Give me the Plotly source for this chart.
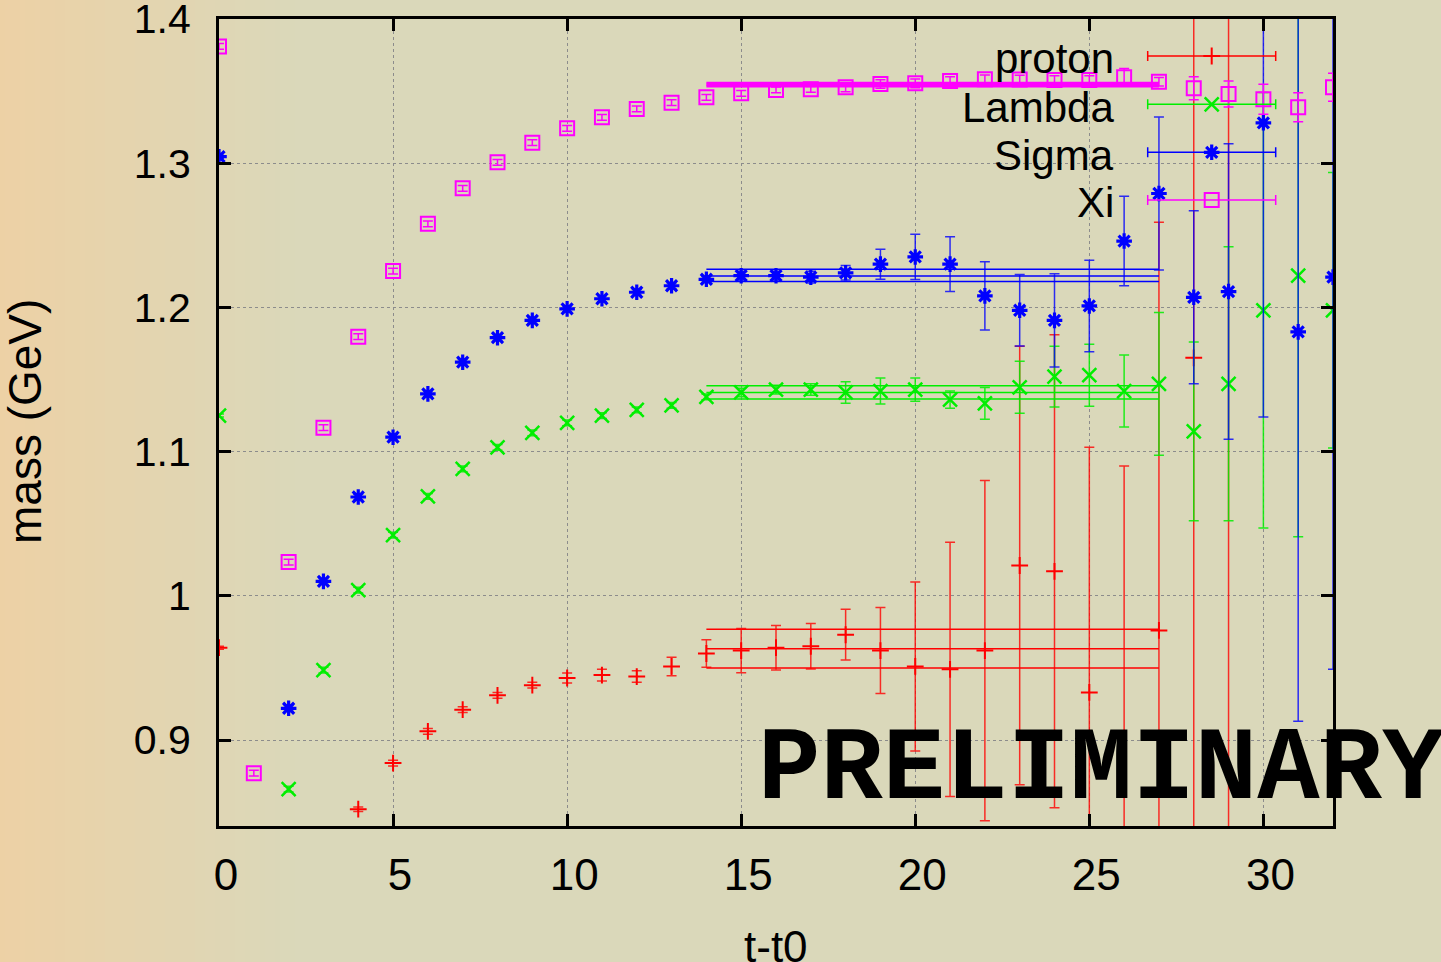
import plotly.graph_objects as go

# ---------------- data ----------------
t = list(range(33))

proton_mass = [0.964, None, None, None, 0.852, 0.884, 0.906, 0.921, 0.931, 0.938,
               0.943, 0.945, 0.944, 0.951, 0.960, 0.962, 0.964, 0.965, 0.973, 0.962,
               0.951, 0.949, 0.962, 1.021, 1.017, 0.933, 0.820, 0.976, 1.165, 0.800,
               None, None, None]
proton_err = [0.001, None, None, None, 0.0015, 0.002, 0.002, 0.002, 0.002, 0.002,
              0.0035, 0.004, 0.004, 0.0064, 0.0096, 0.0154, 0.0154, 0.0158, 0.0176, 0.0298,
              0.0586, 0.0882, 0.118, 0.152, 0.164, 0.170, 0.270, 0.283, 0.500, 0.650,
              None, None, None]

lambda_mass = [1.125, None, 0.866, 0.9485, 1.004, 1.042, 1.069, 1.088, 1.103, 1.113,
               1.120, 1.125, 1.129, 1.132, 1.138, 1.141, 1.143, 1.143, 1.141, 1.142,
               1.143, 1.136, 1.1335, 1.1446, 1.152, 1.153, 1.142, 1.147, 1.114, 1.147,
               1.198, 1.222, 1.198]
lambda_err = [0.001, None, 0.002, 0.002, 0.002, 0.002, 0.002, 0.002, 0.002, 0.002,
              0.002, 0.002, 0.002, 0.002, 0.002, 0.003, 0.003, 0.004, 0.0075, 0.009,
              0.008, 0.006, 0.011, 0.018, 0.021, 0.0215, 0.025, 0.0495, 0.062, 0.095,
              0.151, 0.181, 0.0955]

sigma_mass = [1.3045, None, 0.922, 1.010, 1.0685, 1.110, 1.140, 1.162, 1.179, 1.191,
              1.199, 1.206, 1.2105, 1.215, 1.2195, 1.222, 1.222, 1.221, 1.224, 1.230,
              1.235, 1.230, 1.208, 1.198, 1.191, 1.201, 1.246, 1.279, 1.207, 1.211,
              1.328, 1.183, 1.221]
sigma_err = [0.001, None, 0.002, 0.002, 0.002, 0.002, 0.002, 0.002, 0.002, 0.002,
             0.002, 0.002, 0.002, 0.002, 0.002, 0.003, 0.003, 0.004, 0.005, 0.0104,
             0.0157, 0.019, 0.0237, 0.0248, 0.0323, 0.0317, 0.031, 0.053, 0.060, 0.1025,
             0.204, 0.270, 0.272]

xi_mass = [1.381, 0.877, 1.0234, 1.1166, 1.1797, 1.2252, 1.258, 1.2826, 1.3006, 1.3142,
           1.3242, 1.3318, 1.3376, 1.342, 1.3457, 1.3485, 1.3508, 1.3512, 1.3526, 1.3549,
           1.3554, 1.357, 1.3582, 1.358, 1.3577, 1.3577, 1.3596, 1.3565, 1.352, 1.348,
           1.3443, 1.3388, 1.3526]
xi_err = [0.002, 0.002, 0.002, 0.002, 0.002, 0.002, 0.002, 0.002, 0.002, 0.002,
          0.002, 0.002, 0.002, 0.002, 0.002, 0.002, 0.002, 0.002, 0.003, 0.003,
          0.003, 0.003, 0.003, 0.003, 0.003, 0.003, 0.006, 0.003, 0.008, 0.009,
          0.0104, 0.010, 0.0097]

# plateau fits: central, upper, lower over the fit window
fit_window = [14, 27]
proton_fit = [0.9633, 0.9768, 0.9499]
lambda_fit = [1.1409, 1.1457, 1.1365]
sigma_fit = [1.2218, 1.2264, 1.2179]
xi_fit = [1.3545, 1.3556, 1.3534]

names = ["proton", "Lambda", "Sigma", "Xi"]
x_ticks = [0, 5, 10, 15, 20, 25, 30]
y_ticks = [0.9, 1.0, 1.1, 1.2, 1.3, 1.4]
y_ticktext = ["0.9", "1", "1.1", "1.2", "1.3", "1.4"]

# ---------------- layout geometry ----------------
W, H = 1441, 962
ML, MR, MT, MB = 219, 108, 19, 136
PW, PH = W - ML - MR, H - MT - MB

def pxx(px):
    return (px - ML) / PW

def pxy(py):
    return (H - MB - py) / PH

colors = ["#ff0000", "#00ee00", "#0000ff", "#ff00ff"]
bar_colors = ["rgba(255,0,0,0.8)", "rgba(0,238,0,0.85)", "rgba(0,0,255,0.8)", "#ff00ff"]
symbols = ["cross-thin-open", "x-thin-open", "asterisk-open", "square-open"]
msizes = [12, 14, 13, 14]
mwidths = [2, 2.5, 3.2, 2]

series = [(proton_mass, proton_err, proton_fit),
          (lambda_mass, lambda_err, lambda_fit),
          (sigma_mass, sigma_err, sigma_fit),
          (xi_mass, xi_err, xi_fit)]

fig = go.Figure()

for i, (m, e, f) in enumerate(series):
    c = colors[i]
    fig.add_trace(go.Scatter(
        x=t, y=m, mode="markers", name=names[i], showlegend=False,
        marker=dict(symbol=symbols[i], size=msizes[i], color=c,
                    line=dict(color=c, width=mwidths[i])),
        error_y=dict(type="data", array=e, visible=True, color=bar_colors[i],
                     thickness=1.5, width=5),
    ))
    lw = 2.4 if i == 3 else 1.5
    for v in f:
        fig.add_trace(go.Scatter(
            x=fit_window, y=[v, v], mode="lines", showlegend=False,
            line=dict(color=c, width=lw), hoverinfo="skip",
        ))

# ---------------- gnuplot-style key ----------------
key_rows_px = [56, 104.3, 152.3, 200]
key_center_px = 1211.7
key_half_px = 64
key_text_right_px = 1116
for i in range(4):
    c = colors[i]
    fig.add_trace(go.Scatter(
        x=[pxx(key_center_px)], y=[pxy(key_rows_px[i])], xaxis="x2", yaxis="y2",
        mode="markers", showlegend=False, hoverinfo="skip",
        marker=dict(symbol=symbols[i], size=msizes[i], color=c,
                    line=dict(color=c, width=mwidths[i])),
        error_x=dict(type="constant", value=key_half_px / PW, color=c,
                     thickness=1.5, width=5),
    ))

annotations = []
for i in range(4):
    annotations.append(dict(
        x=pxx(key_text_right_px), y=pxy(key_rows_px[i]), xref="paper", yref="paper",
        text=names[i], showarrow=False, xanchor="right", yanchor="middle",
        font=dict(family="Liberation Sans, Arial, sans-serif", size=42, color="#000"),
        yshift=-3,
    ))

annotations.append(dict(
    x=pxx(25), y=pxy(422), xref="paper", yref="paper", text="mass (GeV)",
    textangle=-90, showarrow=False, xanchor="center", yanchor="middle",
    font=dict(family="Liberation Sans, Arial, sans-serif", size=46, color="#000"),
))
annotations.append(dict(
    x=pxx(776), y=pxy(946), xref="paper", yref="paper", text="t-t0",
    showarrow=False, xanchor="center", yanchor="middle",
    font=dict(family="Liberation Sans, Arial, sans-serif", size=44, color="#000"),
))
annotations.append(dict(
    x=pxx(756), y=pxy(770), xref="paper", yref="paper", text="PRELIMINARY",
    showarrow=False, xanchor="left", yanchor="middle",
    font=dict(family="Liberation Mono, Courier New, monospace", size=104, color="#000",
              weight=600),
))

# ---------------- background gradient strips ----------------
shapes = []
c0 = (237, 209, 165)
c1 = (218, 216, 186)
grad_end = 300
step = 5
for k in range(0, grad_end, step):
    fr = (k + step / 2) / grad_end
    col = tuple(round(c0[j] + (c1[j] - c0[j]) * fr) for j in range(3))
    shapes.append(dict(
        type="rect", xref="paper", yref="paper",
        x0=pxx(k), x1=pxx(k + step + 1), y0=pxy(H + 5), y1=pxy(-5),
        fillcolor="rgb(%d,%d,%d)" % col, line=dict(width=0), layer="below",
    ))

axis_font = dict(family="Liberation Sans, Arial, sans-serif", color="#000")

fig.update_layout(
    width=W, height=H,
    margin=dict(l=ML, r=MR, t=MT, b=MB, pad=0, autoexpand=False),
    paper_bgcolor="rgb(218,216,186)",
    plot_bgcolor="rgba(0,0,0,0)",
    showlegend=False,
    shapes=shapes,
    annotations=annotations,
    xaxis=dict(
        range=[0, 32], tickvals=x_ticks, ticks="inside", ticklen=12, tickwidth=3,
        tickcolor="#000", showline=True, linewidth=3, linecolor="#000", mirror="ticks",
        showgrid=True, gridcolor="#8c8c8c", griddash="dot", gridwidth=1,
        zeroline=False, tickfont=dict(size=44, **axis_font), ticklabelstandoff=8,
        ticklabelshift=7, ticklabeloverflow="allow", automargin=False,
    ),
    yaxis=dict(
        range=[1.4 - PH / 1442.0, 1.4 + 1e-7], tickvals=y_ticks, ticktext=y_ticktext,
        ticks="inside", ticklen=12, tickwidth=3, tickcolor="#000", showline=True,
        linewidth=3, linecolor="#000", mirror="ticks", showgrid=True,
        gridcolor="#8c8c8c", griddash="dot", gridwidth=1, zeroline=False,
        tickfont=dict(size=41, **axis_font), ticklabelstandoff=17,
        ticklabeloverflow="allow", automargin=False,
    ),
    xaxis2=dict(overlaying="x", range=[0, 1], visible=False, anchor="y2"),
    yaxis2=dict(overlaying="y", range=[0, 1], visible=False, anchor="x2"),
)

fig.write_html("out.html")
